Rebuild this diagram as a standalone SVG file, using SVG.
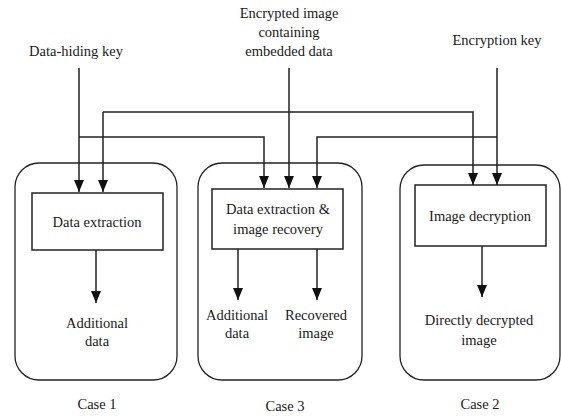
<svg xmlns="http://www.w3.org/2000/svg" width="561" height="417" viewBox="0 0 561 417">
<style>
text{font-family:"Liberation Serif","DejaVu Serif",serif;font-size:14.5px;fill:#1a1a1a;text-anchor:middle}
.outer{fill:none;stroke:#222;stroke-width:1.3}
.box{fill:#fff;stroke:#222;stroke-width:1.5}
.ln{fill:none;stroke:#222;stroke-width:1.5}
</style>
<defs>
<marker id="ah" viewBox="0 0 12 10" refX="12" refY="5" markerWidth="12" markerHeight="10" markerUnits="userSpaceOnUse" orient="auto">
<path d="M0,0 L12,5 L0,10 Z" fill="#111"/>
</marker>
</defs>
<rect width="561" height="417" fill="#fff"/>
<g id="inputs">
<text x="76" y="56">Data-hiding key</text>
<text x="289" y="18">Encrypted image</text>
<text x="289" y="37">containing</text>
<text x="289" y="56">embedded data</text>
<text x="497" y="45">Encryption key</text>
</g>
<g id="case1">
<rect class="outer" x="15" y="163" width="162" height="217" rx="24"/>
<rect class="box" x="32" y="193" width="131" height="57"/>
<text x="97" y="227">Data extraction</text>
<text x="97" y="328">Additional</text>
<text x="97" y="346">data</text>
<text x="97" y="409">Case 1</text>
</g>
<g id="case3">
<rect class="outer" x="198" y="163" width="164" height="217" rx="24"/>
<rect class="box" x="212" y="189" width="131" height="60"/>
<text x="278" y="214">Data extraction &amp;</text>
<text x="278" y="234">image recovery</text>
<text x="237" y="320">Additional</text>
<text x="237" y="338">data</text>
<text x="316" y="320">Recovered</text>
<text x="316" y="338">image</text>
<text x="285" y="411">Case 3</text>
</g>
<g id="case2">
<rect class="outer" x="400" y="165" width="160" height="215" rx="24"/>
<rect class="box" x="415" y="185" width="131" height="61"/>
<text x="480" y="221">Image decryption</text>
<text x="479" y="325">Directly decrypted</text>
<text x="479" y="345">image</text>
<text x="480" y="409">Case 2</text>
</g>
<g id="connectors">
<path class="ln" d="M79,68 V192" marker-end="url(#ah)"/>
<path class="ln" d="M79,137 H264 V188" marker-end="url(#ah)"/>
<path class="ln" d="M103,112 H473 V185" marker-end="url(#ah)"/>
<path class="ln" d="M103,112 V192" marker-end="url(#ah)"/>
<path class="ln" d="M289,68 V188" marker-end="url(#ah)"/>
<path class="ln" d="M497,68 V185" marker-end="url(#ah)"/>
<path class="ln" d="M497,137 H317 V188" marker-end="url(#ah)"/>
<path class="ln" d="M96,250 V303" marker-end="url(#ah)"/>
<path class="ln" d="M238,249 V300" marker-end="url(#ah)"/>
<path class="ln" d="M317,249 V300" marker-end="url(#ah)"/>
<path class="ln" d="M482,246 V297" marker-end="url(#ah)"/>
</g>
</svg>
